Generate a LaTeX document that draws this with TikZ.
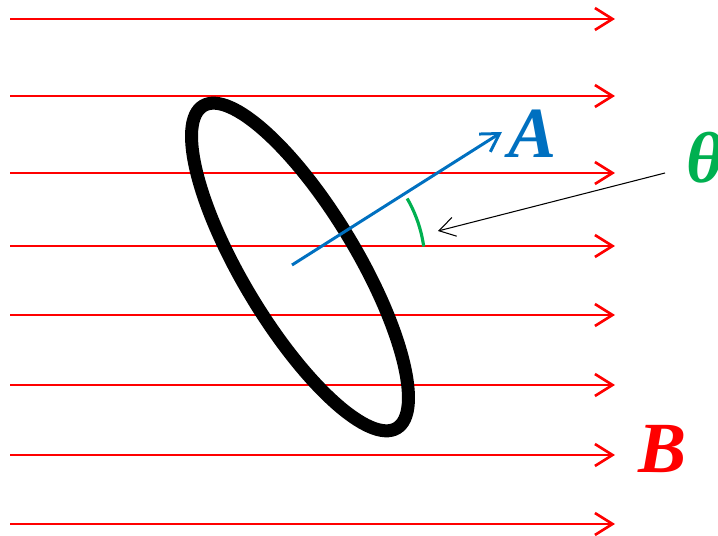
\documentclass[tikz,border=0pt]{standalone}
\usepackage{fontspec}
\setmainfont{Liberation Serif}
\usetikzlibrary{arrows.meta}
\definecolor{fieldred}{RGB}{255,0,0}
\definecolor{vecblue}{RGB}{0,112,192}
\definecolor{anglegreen}{RGB}{0,176,80}

\begin{document}
\begin{tikzpicture}[x=0.02cm, y=-0.02cm,
    fieldline/.style={fieldred, line width=1.5pt, -{Straight Barb[length=10pt,width=12.5pt]}},
    loopline/.style={black, line width=7.4pt},
    vecA/.style={vecblue, line width=1.7pt, -{Straight Barb[length=10pt,width=12pt]}},
    anglearc/.style={anglegreen, line width=1.8pt},
    pointer/.style={black, line width=0.6pt, -{Straight Barb[length=9pt,width=11pt]}},
    lbl/.style={inner sep=0pt, font=\fontsize{41}{41}\selectfont\bfseries\itshape}]
    \useasboundingbox (0,0) rectangle (718,536);
    % B field lines
    \foreach \y [count=\i] in {19,96,173,246,315,385,455,524} {
      \coordinate (fl\i) at (10,\y);
      \coordinate (fr\i) at (615,\y);
      \draw[fieldline] (fl\i) -- (fr\i);
    }
    % current loop
    \coordinate (loopc) at (300,267);
    \draw[loopline, rotate around={-59:(loopc)}] (loopc) ellipse (188 and 57);
    % area vector A
    \coordinate (O) at (292,265);
    \coordinate (Atip) at (502,132);
    \draw[vecA] (O) -- (Atip);
    \node[lbl, vecblue] (labA) at (533,134) {A};
    % angle theta
    \draw[anglearc] ([shift={(-8:133)}]O) arc[start angle=-8, end angle=-30, radius=133];
    \node[lbl, anglegreen, anchor=west] (labT) at (686,158) {θ};
    \coordinate (ptrS) at (665,173);
    \coordinate (ptrE) at (438,231);
    \draw[pointer] (ptrS) -- (ptrE);
    % B label
    \node[lbl, fieldred] (labB) at (663,449) {B};
\end{tikzpicture}
\end{document}
